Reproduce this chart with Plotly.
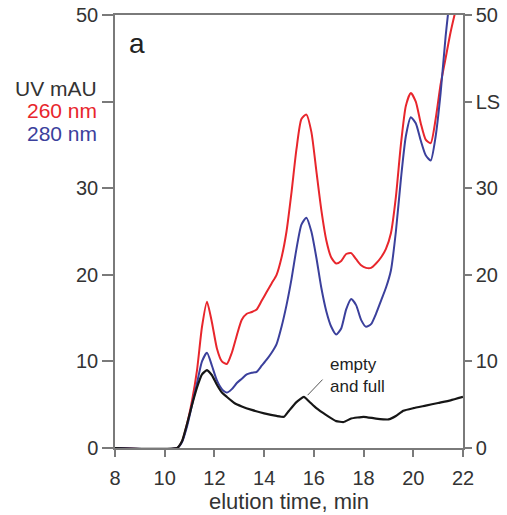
import plotly.graph_objects as go

# Elution time (min) and signals
x_uv = [8, 10.5, 10.7, 10.9, 11.1, 11.3, 11.5, 11.7, 11.9, 12.1, 12.3, 12.5, 12.7, 12.9, 13.1, 13.3, 13.5,
        13.7, 13.9, 14.1, 14.3, 14.5, 14.7, 14.9, 15.1, 15.3, 15.5, 15.7, 15.9, 16.1, 16.3, 16.5, 16.7,
        16.9, 17.1, 17.3, 17.5, 17.7, 17.9, 18.1, 18.3, 18.5, 18.7, 18.9, 19.1, 19.3, 19.5, 19.7, 19.9,
        20.1, 20.3, 20.5, 20.7, 20.9, 21.1, 21.3, 21.5, 21.7, 22]
uv260 = [0, 0, 0.8, 2.8, 5.5, 9, 14, 16.9, 14.5, 11.5, 10, 9.7, 11, 13, 14.8, 15.5, 15.7,
         16, 17, 18, 19, 20, 22, 25, 29.5, 34.5, 38, 38.5, 36.5, 32, 27.5, 24, 22,
         21.3, 21.6, 22.4, 22.5, 21.8, 21.1, 20.8, 20.8, 21.3, 22, 23, 24.8, 29, 35, 39.5, 41,
         40, 37.5, 35.6, 35.2, 38, 42, 45, 48, 50.5, 54]
uv280 = [0, 0, 0.7, 2.5, 5, 7.5, 10, 11, 9.5, 7.8, 6.8, 6.4, 6.8, 7.5, 8, 8.5, 8.7,
         8.8, 9.5, 10.2, 11, 12, 14, 16.5, 19.5, 23, 25.8, 26.6, 25, 22, 18.5, 15.8, 14,
         13.1, 13.8, 16, 17.2, 16.5, 14.8, 14, 14.3, 15.5, 17, 18.5, 20.5, 25, 31, 36, 38.2,
         37.5, 35.5, 33.8, 33.2, 36, 41, 47.5, 52.5, 56, 60]

x_ls = [8, 10.5, 10.7, 10.9, 11.1, 11.3, 11.5, 11.7, 11.9, 12.1, 12.3, 12.5, 12.8, 13.1, 13.5, 14.0,
        14.5, 14.8, 15.0, 15.3, 15.6, 15.8, 16.1, 16.5, 16.9, 17.2, 17.5, 18.0, 18.5, 19.0, 19.3,
        19.6, 20.0, 20.5, 21.0, 21.5, 22]
ls = [0, 0, 0.8, 2.8, 5, 7, 8.5, 9.0, 8.4, 7.3, 6.4, 5.9, 5.2, 4.8, 4.4, 4.0,
      3.7, 3.6, 4.3, 5.3, 5.9, 5.4, 4.6, 3.8, 3.1, 3.0, 3.4, 3.6, 3.4, 3.3, 3.7,
      4.3, 4.6, 4.9, 5.2, 5.5, 5.9]

x_ticks = [8, 10, 12, 14, 16, 18, 20, 22]
y_ticks = [0, 10, 20, 30, 40, 50]
left_labels = ["0", "10", "20", "30", "", "50"]
right_labels = ["0", "10", "20", "30", "LS", "50"]

RED = "#e8262c"
BLUE = "#3b409c"
BLACK = "#161616"
AX = "#7a7a7a"
TXT = "#333333"
FONT = "Liberation Sans, Arial, sans-serif"

fig = go.Figure()
fig.add_trace(go.Scatter(x=x_uv, y=uv260, mode="lines", line=dict(color=RED, width=2, shape="spline", smoothing=0.6),
                         showlegend=False))
fig.add_trace(go.Scatter(x=x_uv, y=uv280, mode="lines", line=dict(color=BLUE, width=2, shape="spline", smoothing=0.6),
                         showlegend=False))
fig.add_trace(go.Scatter(x=x_ls, y=ls, mode="lines", line=dict(color=BLACK, width=2.2, shape="spline", smoothing=0.4),
                         showlegend=False, yaxis="y2"))

fig.update_layout(
    width=507, height=515,
    margin=dict(l=115, r=44, t=15, b=67),
    plot_bgcolor="white", paper_bgcolor="white",
    font=dict(family=FONT, size=20, color=TXT),
    xaxis=dict(range=[8, 22], tickvals=x_ticks, showgrid=False, zeroline=False, automargin=False,
               showline=True, linecolor=AX, linewidth=1.5, mirror=True,
               ticks="outside", ticklen=7, tickcolor=AX, tickwidth=1.5, ticklabelstandoff=4,
               title=dict(text="elution time, min", standoff=6, font=dict(size=22)),
               tickfont=dict(size=20), ticklabeloverflow="allow"),
    yaxis=dict(range=[0, 50], tickvals=y_ticks, ticktext=left_labels, showgrid=False, zeroline=False,
               showline=True, linecolor=AX, linewidth=1.5, automargin=False,
               ticks="outside", ticklen=11, tickcolor=AX, tickwidth=1.5, tickfont=dict(size=20),
               ticklabeloverflow="allow"),
    yaxis2=dict(range=[0, 50], tickvals=y_ticks, ticktext=right_labels, overlaying="y", side="right",
                showgrid=False, zeroline=False, showline=True, linecolor=AX, linewidth=1.5, automargin=False,
                ticks="outside", ticklen=7, tickcolor=AX, tickwidth=1.5, tickfont=dict(size=20),
                ticklabeloverflow="allow"),
)

ann = [
    dict(text="a", x=8.5, y=46.7, xref="x", yref="y", showarrow=False, font=dict(size=28, color="#222"),
         xanchor="left"),
    dict(text="UV mAU", x=-0.045, y=0.862, xref="paper", yref="paper", showarrow=False,
         xanchor="right", font=dict(size=21, color=TXT)),
    dict(text="260 nm", x=-0.045, y=0.810, xref="paper", yref="paper", showarrow=False,
         xanchor="right", font=dict(size=21, color=RED)),
    dict(text="280 nm", x=-0.045, y=0.757, xref="paper", yref="paper", showarrow=False,
         xanchor="right", font=dict(size=21, color=BLUE)),
    dict(text="empty<br>and full", x=16.55, y=8.4, xref="x", yref="y", showarrow=False,
         xanchor="left", align="left", font=dict(size=17, color="#222")),
]
fig.update_layout(annotations=ann)
fig.add_shape(type="line", x0=15.75, y0=6.1, x1=16.35, y1=7.9, xref="x", yref="y",
              line=dict(color="#555", width=1))

fig.write_html("out.html", config={"displayModeBar": False},
               post_script="document.body.style.margin='0';")
